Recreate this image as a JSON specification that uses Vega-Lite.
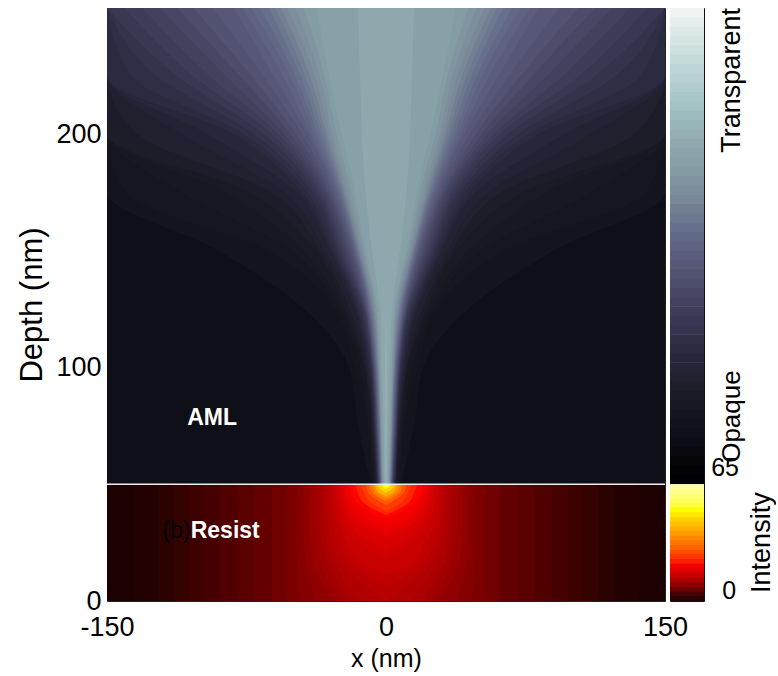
{
  "$schema": "https://vega.github.io/schema/vega-lite/v6.json",
  "padding": {"left": 16, "top": 7, "right": 0, "bottom": 0},
  "bounds": "flush",
  "spacing": 5,
  "config": {"font": "Liberation Sans", "view": {"stroke": null}},
  "datasets": {
    "aml": [
      {"v":0.11,"d":50,"lo":-150,"hi":150},{"v":0.11,"d":254,"lo":-150,"hi":150},
      {"v":0.1375,"d":50,"lo":-8,"hi":8},{"v":0.1375,"d":75,"lo":-15,"hi":15},{"v":0.1375,"d":100,"lo":-20,"hi":20},{"v":0.1375,"d":125,"lo":-44,"hi":44},{"v":0.1375,"d":150,"lo":-90,"hi":90},{"v":0.1375,"d":175,"lo":-150,"hi":150},{"v":0.1375,"d":254,"lo":-150,"hi":150},
      {"v":0.1525,"d":50,"lo":-7.5,"hi":7.5},{"v":0.1525,"d":75,"lo":-9.8,"hi":9.8},{"v":0.1525,"d":100,"lo":-17,"hi":17},{"v":0.1525,"d":125,"lo":-27.4,"hi":27.4},{"v":0.1525,"d":150,"lo":-63.8,"hi":63.8},{"v":0.1525,"d":175,"lo":-140,"hi":140},{"v":0.1525,"d":200,"lo":-150,"hi":150},{"v":0.1525,"d":254,"lo":-150,"hi":150},
      {"v":0.1675,"d":50,"lo":-6.9,"hi":6.9},{"v":0.1675,"d":75,"lo":-9.3,"hi":9.3},{"v":0.1675,"d":100,"lo":-14,"hi":14},{"v":0.1675,"d":125,"lo":-25.6,"hi":25.6},{"v":0.1675,"d":150,"lo":-50.8,"hi":50.8},{"v":0.1675,"d":175,"lo":-110,"hi":110},{"v":0.1675,"d":200,"lo":-150,"hi":150},{"v":0.1675,"d":254,"lo":-150,"hi":150},
      {"v":0.1825,"d":50,"lo":-6.4,"hi":6.4},{"v":0.1825,"d":75,"lo":-8.7,"hi":8.7},{"v":0.1825,"d":100,"lo":-11.9,"hi":11.9},{"v":0.1825,"d":125,"lo":-23.7,"hi":23.7},{"v":0.1825,"d":150,"lo":-44.4,"hi":44.4},{"v":0.1825,"d":175,"lo":-85.8,"hi":85.8},{"v":0.1825,"d":200,"lo":-150,"hi":150},{"v":0.1825,"d":254,"lo":-150,"hi":150},
      {"v":0.2,"d":50,"lo":-5.9,"hi":5.9},{"v":0.2,"d":75,"lo":-8.1,"hi":8.1},{"v":0.2,"d":100,"lo":-11.4,"hi":11.4},{"v":0.2,"d":125,"lo":-21.9,"hi":21.9},{"v":0.2,"d":150,"lo":-38,"hi":38},{"v":0.2,"d":175,"lo":-73.3,"hi":73.3},{"v":0.2,"d":200,"lo":-150,"hi":150},{"v":0.2,"d":254,"lo":-150,"hi":150},
      {"v":0.22,"d":50,"lo":-5.4,"hi":5.4},{"v":0.22,"d":75,"lo":-7.4,"hi":7.4},{"v":0.22,"d":100,"lo":-10.8,"hi":10.8},{"v":0.22,"d":125,"lo":-19.4,"hi":19.4},{"v":0.22,"d":150,"lo":-35.3,"hi":35.3},{"v":0.22,"d":175,"lo":-61.6,"hi":61.6},{"v":0.22,"d":200,"lo":-133.5,"hi":133.5},{"v":0.22,"d":225,"lo":-150,"hi":150},{"v":0.22,"d":254,"lo":-150,"hi":150},
      {"v":0.24,"d":50,"lo":-5.2,"hi":5.2},{"v":0.24,"d":75,"lo":-6.9,"hi":6.9},{"v":0.24,"d":100,"lo":-10.2,"hi":10.2},{"v":0.24,"d":125,"lo":-17,"hi":17},{"v":0.24,"d":150,"lo":-32.7,"hi":32.7},{"v":0.24,"d":175,"lo":-54.8,"hi":54.8},{"v":0.24,"d":200,"lo":-110,"hi":110},{"v":0.24,"d":225,"lo":-150,"hi":150},{"v":0.24,"d":254,"lo":-150,"hi":150},
      {"v":0.26,"d":50,"lo":-5,"hi":5},{"v":0.26,"d":75,"lo":-6.7,"hi":6.7},{"v":0.26,"d":100,"lo":-9.5,"hi":9.5},{"v":0.26,"d":125,"lo":-16.2,"hi":16.2},{"v":0.26,"d":150,"lo":-30,"hi":30},{"v":0.26,"d":175,"lo":-48,"hi":48},{"v":0.26,"d":200,"lo":-96,"hi":96},{"v":0.26,"d":225,"lo":-150,"hi":150},{"v":0.26,"d":254,"lo":-150,"hi":150},
      {"v":0.28,"d":50,"lo":-4.8,"hi":4.8},{"v":0.28,"d":75,"lo":-6.5,"hi":6.5},{"v":0.28,"d":100,"lo":-8.9,"hi":8.9},{"v":0.28,"d":125,"lo":-15.3,"hi":15.3},{"v":0.28,"d":150,"lo":-28.8,"hi":28.8},{"v":0.28,"d":175,"lo":-45.1,"hi":45.1},{"v":0.28,"d":200,"lo":-82,"hi":82},{"v":0.28,"d":225,"lo":-150,"hi":150},{"v":0.28,"d":254,"lo":-150,"hi":150},
      {"v":0.3,"d":50,"lo":-4.6,"hi":4.6},{"v":0.3,"d":75,"lo":-6.2,"hi":6.2},{"v":0.3,"d":100,"lo":-8.3,"hi":8.3},{"v":0.3,"d":125,"lo":-14.5,"hi":14.5},{"v":0.3,"d":150,"lo":-27.6,"hi":27.6},{"v":0.3,"d":175,"lo":-42.3,"hi":42.3},{"v":0.3,"d":200,"lo":-76.6,"hi":76.6},{"v":0.3,"d":225,"lo":-136.8,"hi":136.8},{"v":0.3,"d":254,"lo":-150,"hi":150},
      {"v":0.32,"d":50,"lo":-4.4,"hi":4.4},{"v":0.32,"d":75,"lo":-6,"hi":6},{"v":0.32,"d":100,"lo":-7.9,"hi":7.9},{"v":0.32,"d":125,"lo":-13.7,"hi":13.7},{"v":0.32,"d":150,"lo":-26.4,"hi":26.4},{"v":0.32,"d":175,"lo":-39.4,"hi":39.4},{"v":0.32,"d":200,"lo":-71.1,"hi":71.1},{"v":0.32,"d":225,"lo":-123.6,"hi":123.6},{"v":0.32,"d":254,"lo":-150,"hi":150},
      {"v":0.34,"d":50,"lo":-4.2,"hi":4.2},{"v":0.34,"d":75,"lo":-5.8,"hi":5.8},{"v":0.34,"d":100,"lo":-7.6,"hi":7.6},{"v":0.34,"d":125,"lo":-12.8,"hi":12.8},{"v":0.34,"d":150,"lo":-25.2,"hi":25.2},{"v":0.34,"d":175,"lo":-37.3,"hi":37.3},{"v":0.34,"d":200,"lo":-65.7,"hi":65.7},{"v":0.34,"d":225,"lo":-112.6,"hi":112.6},{"v":0.34,"d":254,"lo":-150,"hi":150},
      {"v":0.36,"d":50,"lo":-4,"hi":4},{"v":0.36,"d":75,"lo":-5.6,"hi":5.6},{"v":0.36,"d":100,"lo":-7.4,"hi":7.4},{"v":0.36,"d":125,"lo":-12,"hi":12},{"v":0.36,"d":150,"lo":-24,"hi":24},{"v":0.36,"d":175,"lo":-35.8,"hi":35.8},{"v":0.36,"d":200,"lo":-61.3,"hi":61.3},{"v":0.36,"d":225,"lo":-103.9,"hi":103.9},{"v":0.36,"d":254,"lo":-140.6,"hi":140.6},
      {"v":0.38,"d":50,"lo":-3.8,"hi":3.8},{"v":0.38,"d":75,"lo":-5.4,"hi":5.4},{"v":0.38,"d":100,"lo":-7.1,"hi":7.1},{"v":0.38,"d":125,"lo":-11.6,"hi":11.6},{"v":0.38,"d":150,"lo":-22.8,"hi":22.8},{"v":0.38,"d":175,"lo":-34.3,"hi":34.3},{"v":0.38,"d":200,"lo":-58,"hi":58},{"v":0.38,"d":225,"lo":-95.1,"hi":95.1},{"v":0.38,"d":254,"lo":-131.1,"hi":131.1},
      {"v":0.4,"d":50,"lo":-3.6,"hi":3.6},{"v":0.4,"d":75,"lo":-5.2,"hi":5.2},{"v":0.4,"d":100,"lo":-6.9,"hi":6.9},{"v":0.4,"d":125,"lo":-11.2,"hi":11.2},{"v":0.4,"d":150,"lo":-21.6,"hi":21.6},{"v":0.4,"d":175,"lo":-32.8,"hi":32.8},{"v":0.4,"d":200,"lo":-54.7,"hi":54.7},{"v":0.4,"d":225,"lo":-86.4,"hi":86.4},{"v":0.4,"d":254,"lo":-121.7,"hi":121.7},
      {"v":0.42,"d":50,"lo":-3.4,"hi":3.4},{"v":0.42,"d":75,"lo":-4.9,"hi":4.9},{"v":0.42,"d":100,"lo":-6.6,"hi":6.6},{"v":0.42,"d":125,"lo":-10.8,"hi":10.8},{"v":0.42,"d":150,"lo":-20.4,"hi":20.4},{"v":0.42,"d":175,"lo":-31.4,"hi":31.4},{"v":0.42,"d":200,"lo":-51.4,"hi":51.4},{"v":0.42,"d":225,"lo":-78.8,"hi":78.8},{"v":0.42,"d":254,"lo":-112.5,"hi":112.5},
      {"v":0.44,"d":50,"lo":-3.3,"hi":3.3},{"v":0.44,"d":75,"lo":-4.7,"hi":4.7},{"v":0.44,"d":100,"lo":-6.4,"hi":6.4},{"v":0.44,"d":125,"lo":-10.4,"hi":10.4},{"v":0.44,"d":150,"lo":-19.2,"hi":19.2},{"v":0.44,"d":175,"lo":-30.2,"hi":30.2},{"v":0.44,"d":200,"lo":-48.3,"hi":48.3},{"v":0.44,"d":225,"lo":-72.5,"hi":72.5},{"v":0.44,"d":254,"lo":-103.5,"hi":103.5},
      {"v":0.46,"d":50,"lo":-3.2,"hi":3.2},{"v":0.46,"d":75,"lo":-4.5,"hi":4.5},{"v":0.46,"d":100,"lo":-6.1,"hi":6.1},{"v":0.46,"d":125,"lo":-10,"hi":10},{"v":0.46,"d":150,"lo":-18,"hi":18},{"v":0.46,"d":175,"lo":-29,"hi":29},{"v":0.46,"d":200,"lo":-45.1,"hi":45.1},{"v":0.46,"d":225,"lo":-66.2,"hi":66.2},{"v":0.46,"d":254,"lo":-93.3,"hi":93.3},
      {"v":0.48,"d":50,"lo":-3,"hi":3},{"v":0.48,"d":75,"lo":-4.3,"hi":4.3},{"v":0.48,"d":100,"lo":-5.9,"hi":5.9},{"v":0.48,"d":125,"lo":-9.6,"hi":9.6},{"v":0.48,"d":150,"lo":-17.5,"hi":17.5},{"v":0.48,"d":175,"lo":-27.8,"hi":27.8},{"v":0.48,"d":200,"lo":-42,"hi":42},{"v":0.48,"d":225,"lo":-60.5,"hi":60.5},{"v":0.48,"d":254,"lo":-82,"hi":82},
      {"v":0.5,"d":50,"lo":-2.9,"hi":2.9},{"v":0.5,"d":75,"lo":-4.1,"hi":4.1},{"v":0.5,"d":100,"lo":-5.6,"hi":5.6},{"v":0.5,"d":125,"lo":-9.2,"hi":9.2},{"v":0.5,"d":150,"lo":-16.9,"hi":16.9},{"v":0.5,"d":175,"lo":-26.6,"hi":26.6},{"v":0.5,"d":200,"lo":-40.3,"hi":40.3},{"v":0.5,"d":225,"lo":-55.5,"hi":55.5},{"v":0.5,"d":254,"lo":-77.3,"hi":77.3},
      {"v":0.52,"d":50,"lo":-2.8,"hi":2.8},{"v":0.52,"d":75,"lo":-3.9,"hi":3.9},{"v":0.52,"d":100,"lo":-5.4,"hi":5.4},{"v":0.52,"d":125,"lo":-8.8,"hi":8.8},{"v":0.52,"d":150,"lo":-16.4,"hi":16.4},{"v":0.52,"d":175,"lo":-25.6,"hi":25.6},{"v":0.52,"d":200,"lo":-38.5,"hi":38.5},{"v":0.52,"d":225,"lo":-51.6,"hi":51.6},{"v":0.52,"d":254,"lo":-72.5,"hi":72.5},
      {"v":0.54,"d":50,"lo":-2.6,"hi":2.6},{"v":0.54,"d":75,"lo":-3.7,"hi":3.7},{"v":0.54,"d":100,"lo":-5.1,"hi":5.1},{"v":0.54,"d":125,"lo":-8.4,"hi":8.4},{"v":0.54,"d":150,"lo":-15.9,"hi":15.9},{"v":0.54,"d":175,"lo":-24.8,"hi":24.8},{"v":0.54,"d":200,"lo":-36.8,"hi":36.8},{"v":0.54,"d":225,"lo":-48.8,"hi":48.8},{"v":0.54,"d":254,"lo":-67.8,"hi":67.8},
      {"v":0.56,"d":50,"lo":-2.5,"hi":2.5},{"v":0.56,"d":75,"lo":-3.5,"hi":3.5},{"v":0.56,"d":100,"lo":-4.8,"hi":4.8},{"v":0.56,"d":125,"lo":-8,"hi":8},{"v":0.56,"d":150,"lo":-15.3,"hi":15.3},{"v":0.56,"d":175,"lo":-23.9,"hi":23.9},{"v":0.56,"d":200,"lo":-35,"hi":35},{"v":0.56,"d":225,"lo":-46,"hi":46},{"v":0.56,"d":254,"lo":-63,"hi":63},
      {"v":0.58,"d":50,"lo":-2.3,"hi":2.3},{"v":0.58,"d":75,"lo":-3.3,"hi":3.3},{"v":0.58,"d":100,"lo":-4.5,"hi":4.5},{"v":0.58,"d":125,"lo":-7.4,"hi":7.4},{"v":0.58,"d":150,"lo":-14.8,"hi":14.8},{"v":0.58,"d":175,"lo":-23.1,"hi":23.1},{"v":0.58,"d":200,"lo":-33.4,"hi":33.4},{"v":0.58,"d":225,"lo":-43.4,"hi":43.4},{"v":0.58,"d":254,"lo":-59.7,"hi":59.7},
      {"v":0.6,"d":50,"lo":-2.2,"hi":2.2},{"v":0.6,"d":75,"lo":-3.1,"hi":3.1},{"v":0.6,"d":100,"lo":-4.3,"hi":4.3},{"v":0.6,"d":125,"lo":-6.9,"hi":6.9},{"v":0.6,"d":150,"lo":-14.3,"hi":14.3},{"v":0.6,"d":175,"lo":-22.3,"hi":22.3},{"v":0.6,"d":200,"lo":-31.9,"hi":31.9},{"v":0.6,"d":225,"lo":-40.9,"hi":40.9},{"v":0.6,"d":254,"lo":-56.3,"hi":56.3},
      {"v":0.62,"d":50,"lo":-2.1,"hi":2.1},{"v":0.62,"d":75,"lo":-2.9,"hi":2.9},{"v":0.62,"d":100,"lo":-4,"hi":4},{"v":0.62,"d":125,"lo":-6.3,"hi":6.3},{"v":0.62,"d":150,"lo":-13.6,"hi":13.6},{"v":0.62,"d":175,"lo":-21.4,"hi":21.4},{"v":0.62,"d":200,"lo":-30.3,"hi":30.3},{"v":0.62,"d":225,"lo":-38.3,"hi":38.3},{"v":0.62,"d":254,"lo":-53,"hi":53},
      {"v":0.64,"d":50,"lo":-1.9,"hi":1.9},{"v":0.64,"d":75,"lo":-2.7,"hi":2.7},{"v":0.64,"d":100,"lo":-3.7,"hi":3.7},{"v":0.64,"d":125,"lo":-5.7,"hi":5.7},{"v":0.64,"d":150,"lo":-12.7,"hi":12.7},{"v":0.64,"d":175,"lo":-20.1,"hi":20.1},{"v":0.64,"d":200,"lo":-28.8,"hi":28.8},{"v":0.64,"d":225,"lo":-35.7,"hi":35.7},{"v":0.64,"d":254,"lo":-48.6,"hi":48.6},
      {"v":0.66,"d":50,"lo":-1.5,"hi":1.5},{"v":0.66,"d":75,"lo":-2.5,"hi":2.5},{"v":0.66,"d":100,"lo":-3.4,"hi":3.4},{"v":0.66,"d":125,"lo":-5.1,"hi":5.1},{"v":0.66,"d":150,"lo":-11.8,"hi":11.8},{"v":0.66,"d":175,"lo":-18.4,"hi":18.4},{"v":0.66,"d":200,"lo":-26.6,"hi":26.6},{"v":0.66,"d":225,"lo":-33.1,"hi":33.1},{"v":0.66,"d":254,"lo":-44.2,"hi":44.2},
      {"v":0.68,"d":50,"lo":-1.2,"hi":1.2},{"v":0.68,"d":75,"lo":-1.9,"hi":1.9},{"v":0.68,"d":100,"lo":-3.1,"hi":3.1},{"v":0.68,"d":125,"lo":-4.6,"hi":4.6},{"v":0.68,"d":150,"lo":-10.9,"hi":10.9},{"v":0.68,"d":175,"lo":-16.7,"hi":16.7},{"v":0.68,"d":200,"lo":-23.8,"hi":23.8},{"v":0.68,"d":225,"lo":-30.6,"hi":30.6},{"v":0.68,"d":254,"lo":-37.3,"hi":37.3},
      {"v":0.71,"d":50,"lo":-0.85,"hi":0.85},{"v":0.71,"d":75,"lo":-1.25,"hi":1.25},{"v":0.71,"d":100,"lo":-2.1,"hi":2.1},{"v":0.71,"d":125,"lo":-3.3,"hi":3.3},{"v":0.71,"d":150,"lo":-7.5,"hi":7.5},{"v":0.71,"d":175,"lo":-11,"hi":11},{"v":0.71,"d":200,"lo":-13,"hi":13},{"v":0.71,"d":225,"lo":-14,"hi":14},{"v":0.71,"d":254,"lo":-15,"hi":15},
      {"v":0.735,"d":50,"lo":-0.45,"hi":0.45},{"v":0.735,"d":75,"lo":-0.55,"hi":0.55},{"v":0.735,"d":100,"lo":-0.6,"hi":0.6},{"v":0.735,"d":125,"lo":0,"hi":0}
    ],
    "resist": [
      {"v":0.25,"d":0,"lo":-150,"hi":150},{"v":0.25,"d":50,"lo":-150,"hi":150},
      {"v":0.9,"d":0,"lo":-135.7,"hi":135.7},{"v":0.9,"d":50,"lo":-135.7,"hi":135.7},
      {"v":1.6,"d":0,"lo":-122.3,"hi":122.3},{"v":1.6,"d":50,"lo":-122.3,"hi":122.3},
      {"v":2.4,"d":0,"lo":-114.2,"hi":114.2},{"v":2.4,"d":50,"lo":-114.2,"hi":114.2},
      {"v":3.1,"d":0,"lo":-106,"hi":106},{"v":3.1,"d":50,"lo":-106,"hi":106},
      {"v":3.9,"d":0,"lo":-97.8,"hi":97.8},{"v":3.9,"d":50,"lo":-97.8,"hi":97.8},
      {"v":4.6,"d":0,"lo":-89.4,"hi":89.4},{"v":4.6,"d":50,"lo":-89.4,"hi":89.4},
      {"v":5.4,"d":0,"lo":-80,"hi":80},{"v":5.4,"d":50,"lo":-80,"hi":80},
      {"v":6.1,"d":0,"lo":-70.8,"hi":70.8},{"v":6.1,"d":50,"lo":-70.8,"hi":70.8},
      {"v":6.9,"d":0,"lo":-61.4,"hi":61.4},{"v":6.9,"d":50,"lo":-61.4,"hi":61.4},
      {"v":7.6,"d":0,"lo":-53.1,"hi":53.1},{"v":7.6,"d":50,"lo":-53.1,"hi":53.1},
      {"v":8.4,"d":0,"lo":-46,"hi":46},{"v":8.4,"d":15,"lo":-47.5,"hi":47.5},{"v":8.4,"d":27,"lo":-48.1,"hi":48.1},{"v":8.4,"d":35,"lo":-48.1,"hi":48.1},{"v":8.4,"d":42,"lo":-48.1,"hi":48.1},{"v":8.4,"d":47,"lo":-47.5,"hi":47.5},{"v":8.4,"d":50,"lo":-47.5,"hi":47.5},
      {"v":9.1,"d":0,"lo":-37.6,"hi":37.6},{"v":9.1,"d":15,"lo":-42.9,"hi":42.9},{"v":9.1,"d":27,"lo":-44.1,"hi":44.1},{"v":9.1,"d":35,"lo":-44.2,"hi":44.2},{"v":9.1,"d":42,"lo":-44.2,"hi":44.2},{"v":9.1,"d":47,"lo":-43.8,"hi":43.8},{"v":9.1,"d":50,"lo":-43.8,"hi":43.8},
      {"v":9.9,"d":0,"lo":-28,"hi":28},{"v":9.9,"d":15,"lo":-38.7,"hi":38.7},{"v":9.9,"d":27,"lo":-40.9,"hi":40.9},{"v":9.9,"d":35,"lo":-41.3,"hi":41.3},{"v":9.9,"d":42,"lo":-41.3,"hi":41.3},{"v":9.9,"d":47,"lo":-40.9,"hi":40.9},{"v":9.9,"d":50,"lo":-40.9,"hi":40.9},
      {"v":10.6,"d":0,"lo":-24,"hi":24},{"v":10.6,"d":15,"lo":-34.6,"hi":34.6},{"v":10.6,"d":27,"lo":-37.6,"hi":37.6},{"v":10.6,"d":35,"lo":-38.4,"hi":38.4},{"v":10.6,"d":42,"lo":-38.4,"hi":38.4},{"v":10.6,"d":47,"lo":-38,"hi":38},{"v":10.6,"d":50,"lo":-38,"hi":38},
      {"v":11.4,"d":0,"lo":-20,"hi":20},{"v":11.4,"d":15,"lo":-30.6,"hi":30.6},{"v":11.4,"d":27,"lo":-34.9,"hi":34.9},{"v":11.4,"d":35,"lo":-35.8,"hi":35.8},{"v":11.4,"d":42,"lo":-35.9,"hi":35.9},{"v":11.4,"d":47,"lo":-35.7,"hi":35.7},{"v":11.4,"d":50,"lo":-35.7,"hi":35.7},
      {"v":12.1,"d":0,"lo":-14,"hi":14},{"v":12.1,"d":15,"lo":-26.7,"hi":26.7},{"v":12.1,"d":27,"lo":-32.3,"hi":32.3},{"v":12.1,"d":35,"lo":-33.4,"hi":33.4},{"v":12.1,"d":42,"lo":-34,"hi":34},{"v":12.1,"d":47,"lo":-33.8,"hi":33.8},{"v":12.1,"d":50,"lo":-33.8,"hi":33.8},
      {"v":12.9,"d":0,"lo":0,"hi":0},{"v":12.9,"d":15,"lo":-22.7,"hi":22.7},{"v":12.9,"d":27,"lo":-29.7,"hi":29.7},{"v":12.9,"d":35,"lo":-31.1,"hi":31.1},{"v":12.9,"d":42,"lo":-32,"hi":32},{"v":12.9,"d":47,"lo":-31.9,"hi":31.9},{"v":12.9,"d":50,"lo":-31.9,"hi":31.9},
      {"v":13.6,"d":5.6,"lo":0,"hi":0},{"v":13.6,"d":15,"lo":-18,"hi":18},{"v":13.6,"d":27,"lo":-26.7,"hi":26.7},{"v":13.6,"d":35,"lo":-28.8,"hi":28.8},{"v":13.6,"d":42,"lo":-30,"hi":30},{"v":13.6,"d":47,"lo":-29.9,"hi":29.9},{"v":13.6,"d":50,"lo":-29.9,"hi":29.9},
      {"v":14.5,"d":11.25,"lo":0,"hi":0},{"v":14.5,"d":15,"lo":-12,"hi":12},{"v":14.5,"d":27,"lo":-22.7,"hi":22.7},{"v":14.5,"d":35,"lo":-26.5,"hi":26.5},{"v":14.5,"d":42,"lo":-28,"hi":28},{"v":14.5,"d":47,"lo":-28,"hi":28},{"v":14.5,"d":50,"lo":-28,"hi":28},
      {"v":15.5,"d":17.4,"lo":0,"hi":0},{"v":15.5,"d":27,"lo":-17.3,"hi":17.3},{"v":15.5,"d":35,"lo":-23.5,"hi":23.5},{"v":15.5,"d":42,"lo":-26,"hi":26},{"v":15.5,"d":47,"lo":-26.5,"hi":26.5},{"v":15.5,"d":50,"lo":-26.6,"hi":26.6},
      {"v":16.5,"d":22.2,"lo":0,"hi":0},{"v":16.5,"d":27,"lo":-12,"hi":12},{"v":16.5,"d":35,"lo":-20.5,"hi":20.5},{"v":16.5,"d":42,"lo":-24,"hi":24},{"v":16.5,"d":47,"lo":-25,"hi":25},{"v":16.5,"d":50,"lo":-25.2,"hi":25.2},
      {"v":17.5,"d":27,"lo":0,"hi":0},{"v":17.5,"d":35,"lo":-17.2,"hi":17.2},{"v":17.5,"d":42,"lo":-22,"hi":22},{"v":17.5,"d":47,"lo":-23.5,"hi":23.5},{"v":17.5,"d":50,"lo":-23.8,"hi":23.8},
      {"v":18.5,"d":29.7,"lo":0,"hi":0},{"v":18.5,"d":35,"lo":-13.6,"hi":13.6},{"v":18.5,"d":42,"lo":-20,"hi":20},{"v":18.5,"d":47,"lo":-22,"hi":22},{"v":18.5,"d":50,"lo":-22.5,"hi":22.5},
      {"v":19.6,"d":32.3,"lo":0,"hi":0},{"v":19.6,"d":35,"lo":-10,"hi":10},{"v":19.6,"d":42,"lo":-18,"hi":18},{"v":19.6,"d":47,"lo":-20.5,"hi":20.5},{"v":19.6,"d":50,"lo":-21.1,"hi":21.1},
      {"v":21.1,"d":35.2,"lo":0,"hi":0},{"v":21.1,"d":42,"lo":-15.5,"hi":15.5},{"v":21.1,"d":47,"lo":-18.6,"hi":18.6},{"v":21.1,"d":50,"lo":-19.3,"hi":19.3},
      {"v":23,"d":36.75,"lo":0,"hi":0},{"v":23,"d":42,"lo":-12,"hi":12},{"v":23,"d":47,"lo":-15.5,"hi":15.5},{"v":23,"d":50,"lo":-16.7,"hi":16.7},
      {"v":25.5,"d":38.5,"lo":0,"hi":0},{"v":25.5,"d":42,"lo":-8,"hi":8},{"v":25.5,"d":47,"lo":-12,"hi":12},{"v":25.5,"d":50,"lo":-13.6,"hi":13.6},
      {"v":28.5,"d":41.1,"lo":0,"hi":0},{"v":28.5,"d":42,"lo":-2,"hi":2},{"v":28.5,"d":47,"lo":-10,"hi":10},{"v":28.5,"d":50,"lo":-10.8,"hi":10.8},
      {"v":32,"d":42.6,"lo":0,"hi":0},{"v":32,"d":47,"lo":-8,"hi":8},{"v":32,"d":50,"lo":-9,"hi":9},
      {"v":36,"d":43.8,"lo":0,"hi":0},{"v":36,"d":47,"lo":-6.2,"hi":6.2},{"v":36,"d":50,"lo":-7.5,"hi":7.5},
      {"v":40.5,"d":44.9,"lo":0,"hi":0},{"v":40.5,"d":47,"lo":-4.4,"hi":4.4},{"v":40.5,"d":50,"lo":-6,"hi":6},
      {"v":45.5,"d":46.4,"lo":0,"hi":0},{"v":45.5,"d":47,"lo":-1.5,"hi":1.5},{"v":45.5,"d":50,"lo":-5,"hi":5},
      {"v":50.5,"d":47.9,"lo":0,"hi":0},{"v":50.5,"d":50,"lo":-3.5,"hi":3.5},
      {"v":57,"d":49,"lo":0,"hi":0},{"v":57,"d":50,"lo":-1.8,"hi":1.8}
    ],
    "barA": [
      {"v":0.01,"y0":50,"y1":54.3},{"v":0.029,"y0":54,"y1":58.3},{"v":0.049,"y0":58,"y1":62.3},{"v":0.069,"y0":62,"y1":66.3},{"v":0.088,"y0":66,"y1":70.3},{"v":0.108,"y0":70,"y1":74.3},{"v":0.127,"y0":74,"y1":78.3},{"v":0.147,"y0":78,"y1":82.3},{"v":0.167,"y0":82,"y1":86.3},{"v":0.186,"y0":86,"y1":90.3},
      {"v":0.206,"y0":90,"y1":94.3},{"v":0.225,"y0":94,"y1":98.3},{"v":0.245,"y0":98,"y1":102.3},{"v":0.265,"y0":102,"y1":106.3},{"v":0.284,"y0":106,"y1":110.3},{"v":0.304,"y0":110,"y1":114.3},{"v":0.324,"y0":114,"y1":118.3},{"v":0.343,"y0":118,"y1":122.3},{"v":0.363,"y0":122,"y1":126.3},{"v":0.382,"y0":126,"y1":130.3},
      {"v":0.402,"y0":130,"y1":134.3},{"v":0.422,"y0":134,"y1":138.3},{"v":0.441,"y0":138,"y1":142.3},{"v":0.461,"y0":142,"y1":146.3},{"v":0.48,"y0":146,"y1":150.3},{"v":0.5,"y0":150,"y1":154.3},{"v":0.52,"y0":154,"y1":158.3},{"v":0.539,"y0":158,"y1":162.3},{"v":0.559,"y0":162,"y1":166.3},{"v":0.578,"y0":166,"y1":170.3},
      {"v":0.598,"y0":170,"y1":174.3},{"v":0.618,"y0":174,"y1":178.3},{"v":0.637,"y0":178,"y1":182.3},{"v":0.657,"y0":182,"y1":186.3},{"v":0.676,"y0":186,"y1":190.3},{"v":0.696,"y0":190,"y1":194.3},{"v":0.716,"y0":194,"y1":198.3},{"v":0.735,"y0":198,"y1":202.3},{"v":0.755,"y0":202,"y1":206.3},{"v":0.775,"y0":206,"y1":210.3},
      {"v":0.794,"y0":210,"y1":214.3},{"v":0.814,"y0":214,"y1":218.3},{"v":0.833,"y0":218,"y1":222.3},{"v":0.853,"y0":222,"y1":226.3},{"v":0.873,"y0":226,"y1":230.3},{"v":0.892,"y0":230,"y1":234.3},{"v":0.912,"y0":234,"y1":238.3},{"v":0.931,"y0":238,"y1":242.3},{"v":0.951,"y0":242,"y1":246.3},{"v":0.971,"y0":246,"y1":250.3},
      {"v":0.99,"y0":250,"y1":254}
    ],
    "barB": [
      {"v":1.3,"y0":0,"y1":2.3},{"v":3.9,"y0":2,"y1":4.3},{"v":6.5,"y0":4,"y1":6.3},{"v":9.1,"y0":6,"y1":8.3},{"v":11.7,"y0":8,"y1":10.3},{"v":14.3,"y0":10,"y1":12.3},{"v":16.9,"y0":12,"y1":14.3},{"v":19.5,"y0":14,"y1":16.3},{"v":22.1,"y0":16,"y1":18.3},{"v":24.7,"y0":18,"y1":20.3},
      {"v":27.3,"y0":20,"y1":22.3},{"v":29.9,"y0":22,"y1":24.3},{"v":32.5,"y0":24,"y1":26.3},{"v":35.1,"y0":26,"y1":28.3},{"v":37.7,"y0":28,"y1":30.3},{"v":40.3,"y0":30,"y1":32.3},{"v":42.9,"y0":32,"y1":34.3},{"v":45.5,"y0":34,"y1":36.3},{"v":48.1,"y0":36,"y1":38.3},{"v":50.7,"y0":38,"y1":40.3},
      {"v":53.3,"y0":40,"y1":42.3},{"v":55.9,"y0":42,"y1":44.3},{"v":58.5,"y0":44,"y1":46.3},{"v":61.1,"y0":46,"y1":48.3},{"v":63.7,"y0":48,"y1":50}
    ]
  },
  "hconcat": [
    {
      "width": 558,
      "height": 593,
      "view": {"stroke": "#222", "strokeWidth": 1},
      "layer": [
        {
          "data": {"name": "aml"},
          "mark": {"type": "area", "orient": "horizontal", "interpolate": "monotone", "clip": true},
          "encoding": {
            "y": {"field": "d", "type": "quantitative", "scale": {"domain": [0, 254], "nice": false, "zero": false},
              "axis": {"values": [0, 100, 200], "title": "Depth (nm)", "labelFontSize": 27, "titleFontSize": 31, "titleFontWeight": "normal", "labelColor": "#000", "titleColor": "#000", "ticks": false, "domain": false, "grid": false, "labelPadding": 6, "titlePadding": 7, "labelFlush": false, "labelOverlap": false}},
            "x": {"field": "lo", "type": "quantitative", "stack": null, "scale": {"domain": [-150, 150], "nice": false, "zero": false},
              "axis": {"values": [-150, 0, 150], "title": "x (nm)", "labelExpr": "replace(datum.label, '\u2212', '-')", "labelFontSize": 27, "titleFontSize": 25, "titleFontWeight": "normal", "labelColor": "#000", "titleColor": "#000", "ticks": false, "domain": false, "grid": false, "labelPadding": 13, "titlePadding": 6, "labelFlush": false, "labelOverlap": false}},
            "x2": {"field": "hi"},
            "detail": {"field": "v", "type": "nominal"},
            "color": {"field": "v", "type": "quantitative", "legend": null,
              "scale": {"domain": [0, 0.05, 0.11, 0.17, 0.22, 0.28, 0.35, 0.41, 0.47, 0.53, 0.6, 0.66, 0.72, 0.8, 0.9, 1],
                "range": ["#000000", "#06060a", "#0f0f18", "#181822", "#20202f", "#2a2a40", "#3a3a56", "#4a4a68", "#5a5a7a", "#646c88", "#7a8898", "#849ca4", "#90aab0", "#a4c4c4", "#c8dcdc", "#f2f6f6"]}}
          }
        },
        {
          "data": {"name": "resist"},
          "mark": {"type": "area", "orient": "horizontal", "interpolate": "monotone", "clip": true},
          "encoding": {
            "y": {"field": "d", "type": "quantitative"},
            "x": {"field": "lo", "type": "quantitative", "stack": null},
            "x2": {"field": "hi"},
            "detail": {"field": "v", "type": "nominal"},
            "fill": {"field": "v", "type": "quantitative", "legend": null,
              "scale": {"domain": [0, 0.7, 3.3, 5.9, 7.8, 10.4, 13.7, 17, 21, 26, 34, 43, 51, 65],
                "range": ["#000000", "#200000", "#400000", "#600000", "#800000", "#a00000", "#c00000", "#e00000", "#ff0000", "#ff4000", "#ff8000", "#ffc000", "#ffff00", "#ffffb0"]}}
          }
        },
        {
          "data": {"values": [{}]},
          "mark": {"type": "rule", "color": "#eeeeee", "strokeWidth": 1.5},
          "encoding": {"y": {"datum": 50, "type": "quantitative"}}
        },
        {
          "data": {"values": [{}]},
          "mark": {"type": "text", "text": "AML", "fontWeight": "bold", "fontSize": 23, "color": "#ffffff", "align": "center", "baseline": "middle"},
          "encoding": {"x": {"datum": -93.5, "type": "quantitative"}, "y": {"datum": 78.5, "type": "quantitative"}}
        },
        {
          "data": {"values": [{}]},
          "mark": {"type": "text", "text": "Resist", "fontWeight": "bold", "fontSize": 23, "color": "#ffffff", "align": "left", "baseline": "middle"},
          "encoding": {"x": {"datum": -105, "type": "quantitative"}, "y": {"datum": 30, "type": "quantitative"}}
        },
        {
          "data": {"values": [{}]},
          "mark": {"type": "text", "text": "(b)", "fontSize": 23, "color": "#000000", "align": "right", "baseline": "middle"},
          "encoding": {"x": {"datum": -105, "type": "quantitative"}, "y": {"datum": 30, "type": "quantitative"}}
        }
      ]
    },
    {
      "width": 34,
      "height": 593,
      "view": {"stroke": "#111", "strokeWidth": 1},
      "layer": [
        {
          "data": {"name": "barA"},
          "mark": {"type": "rect"},
          "encoding": {
            "y": {"field": "y0", "type": "quantitative", "scale": {"domain": [0, 254], "nice": false, "zero": false}, "axis": null},
            "y2": {"field": "y1"},
            "x": {"datum": 0, "type": "quantitative", "scale": {"domain": [0, 1], "nice": false, "zero": false}, "axis": null},
            "x2": {"datum": 1},
            "color": {"field": "v", "type": "quantitative", "legend": null,
              "scale": {"domain": [0, 0.05, 0.11, 0.17, 0.22, 0.28, 0.35, 0.41, 0.47, 0.53, 0.6, 0.66, 0.72, 0.8, 0.9, 1],
                "range": ["#000000", "#06060a", "#0f0f18", "#181822", "#20202f", "#2a2a40", "#3a3a56", "#4a4a68", "#5a5a7a", "#646c88", "#7a8898", "#849ca4", "#90aab0", "#a4c4c4", "#c8dcdc", "#f2f6f6"]}}
          }
        },
        {
          "data": {"name": "barB"},
          "mark": {"type": "rect"},
          "encoding": {
            "y": {"field": "y0", "type": "quantitative"},
            "y2": {"field": "y1"},
            "x": {"datum": 0, "type": "quantitative"},
            "x2": {"datum": 1},
            "fill": {"field": "v", "type": "quantitative", "legend": null,
              "scale": {"domain": [0, 0.7, 3.3, 5.9, 7.8, 10.4, 13.7, 17, 21, 26, 34, 43, 51, 65],
                "range": ["#000000", "#200000", "#400000", "#600000", "#800000", "#a00000", "#c00000", "#e00000", "#ff0000", "#ff4000", "#ff8000", "#ffc000", "#ffff00", "#ffffb0"]}}
          }
        },
        {
          "data": {"values": [{}]},
          "mark": {"type": "text", "text": "Transparent", "angle": -90, "fontSize": 27, "color": "#000", "align": "center", "baseline": "middle"},
          "encoding": {"x": {"datum": 1.82, "type": "quantitative"}, "y": {"datum": 223, "type": "quantitative"}}
        },
        {
          "data": {"values": [{}]},
          "mark": {"type": "text", "text": "Opaque", "angle": -90, "fontSize": 26, "color": "#000", "align": "center", "baseline": "middle"},
          "encoding": {"x": {"datum": 1.82, "type": "quantitative"}, "y": {"datum": 79, "type": "quantitative"}}
        },
        {
          "data": {"values": [{}]},
          "mark": {"type": "text", "text": "65", "fontSize": 25, "color": "#000", "align": "center", "baseline": "middle"},
          "encoding": {"x": {"datum": 1.62, "type": "quantitative"}, "y": {"datum": 57, "type": "quantitative"}}
        },
        {
          "data": {"values": [{}]},
          "mark": {"type": "text", "text": "0", "fontSize": 25, "color": "#000", "align": "center", "baseline": "middle"},
          "encoding": {"x": {"datum": 1.74, "type": "quantitative"}, "y": {"datum": 4.3, "type": "quantitative"}}
        },
        {
          "data": {"values": [{}]},
          "mark": {"type": "text", "text": "Intensity", "angle": -90, "fontSize": 27, "color": "#000", "align": "center", "baseline": "middle"},
          "encoding": {"x": {"datum": 2.71, "type": "quantitative"}, "y": {"datum": 25, "type": "quantitative"}}
        }
      ]
    }
  ]
}
